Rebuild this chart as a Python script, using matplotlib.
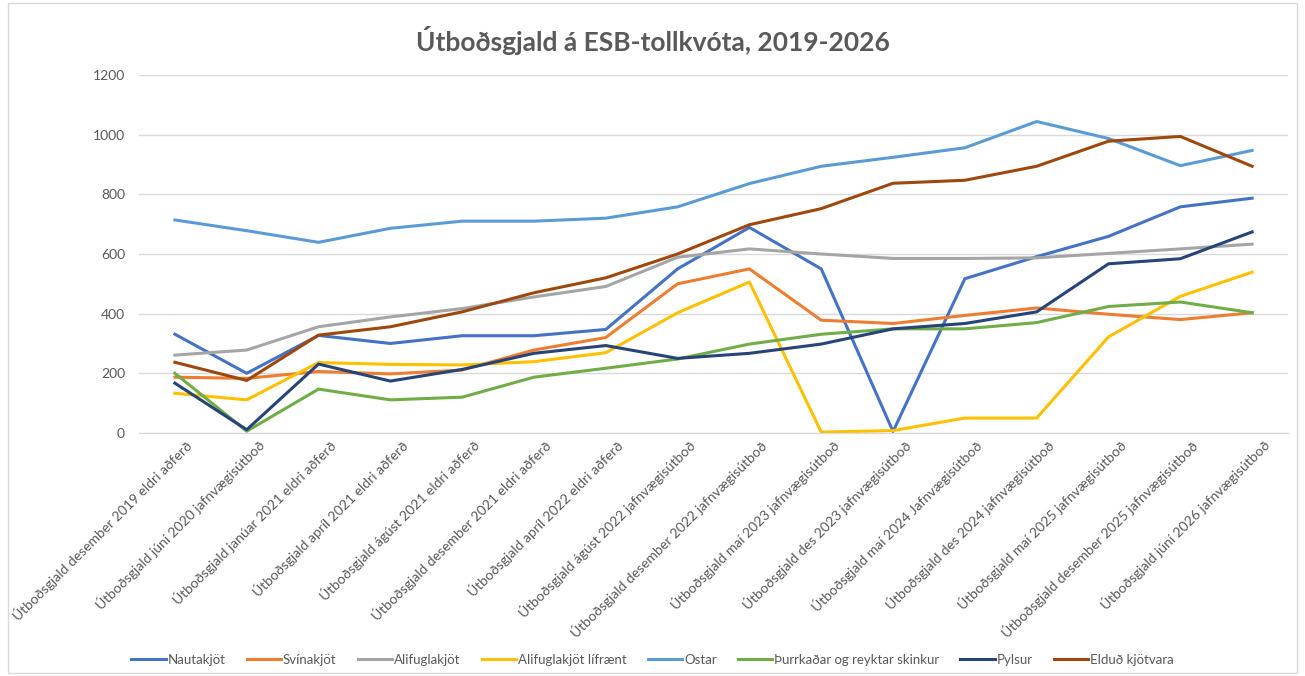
import matplotlib
matplotlib.use("Agg")
import matplotlib.pyplot as plt
from matplotlib.patches import Rectangle

plt.rcParams['font.family'] = ['Lato', 'DejaVu Sans']

categories = [
    "Útboðsgjald desember 2019 eldri aðferð",
    "Útboðsgjald júní 2020 jafnvægisútboð",
    "Útboðsgjald janúar 2021 eldri aðferð",
    "Útboðsgjald apríl 2021 eldri aðferð",
    "Útboðsgjald ágúst 2021 eldri aðferð",
    "Útboðsgjald desember 2021 eldri aðferð",
    "Útboðsgjald apríl 2022 eldri aðferð",
    "Útboðsgjald ágúst 2022 jafnvægisútboð",
    "Útboðsgjald desember 2022 jafnvægisútboð",
    "Útboðsgjald maí 2023 jafnvægisútboð",
    "Útboðsgjald des 2023 jafnvægisútboð",
    "Útboðsgjald maí 2024 Jafnvægisútboð",
    "Útboðsgjald des 2024 jafnvægisútboð",
    "Útboðsgjald maí 2025 jafnvægisútboð",
    "Útboðsgjald desember 2025 jafnvægisútboð",
    "Útboðsgjald júní 2026 jafnvægisútboð",
]

nautakjot = [331, 200, 327, 300, 326, 326, 347, 550, 689, 550, 5, 517, 591, 659, 758, 787]
svinakjot = [187, 183, 206, 198, 211, 278, 320, 500, 550, 378, 367, 394, 419, 398, 380, 403]
alifuglakjot = [261, 278, 356, 389, 417, 456, 491, 589, 617, 600, 585, 585, 587, 602, 617, 633]
alifugl_lifraent = [133, 111, 236, 230, 228, 239, 269, 403, 506, 3, 8, 50, 50, 322, 458, 539]
ostar = [714, 678, 639, 686, 710, 710, 720, 758, 836, 894, 924, 956, 1044, 987, 896, 947]
thurrkadar = [200, 6, 147, 111, 120, 187, 217, 248, 298, 331, 349, 349, 370, 424, 439, 403]
pylsur = [167, 11, 231, 174, 213, 267, 293, 250, 267, 298, 349, 367, 406, 567, 584, 674]
eldud = [237, 176, 328, 356, 406, 470, 520, 600, 698, 752, 837, 847, 894, 978, 994, 894]

series = [
    ("Nautakjöt", nautakjot, "#4472C4"),
    ("Svínakjöt", svinakjot, "#ED7D31"),
    ("Alifuglakjöt", alifuglakjot, "#A5A5A5"),
    ("Alifuglakjöt lífrænt", alifugl_lifraent, "#FFC000"),
    ("Ostar", ostar, "#5B9BD5"),
    ("Þurrkaðar og reyktar skinkur", thurrkadar, "#70AD47"),
    ("Pylsur", pylsur, "#264478"),
    ("Elduð kjötvara", eldud, "#9E480E"),
]

fig = plt.figure(figsize=(13.05, 6.76), dpi=100)
fig.patches.append(Rectangle((0.006, 0.004), 0.988, 0.992, transform=fig.transFigure,
                             fill=False, edgecolor="#D9D9D9", linewidth=1))
ax = fig.add_axes([0.1065, 0.3595, 0.8805, 0.5296])

x = list(range(len(categories)))
for name, vals, col in series:
    ax.plot(x, vals, color=col, lw=2.2, label=name, solid_joinstyle='round')

ax.set_xlim(-0.5, len(categories) - 0.5)
ax.set_ylim(0, 1200)
ax.set_yticks(range(0, 1201, 200))
ax.grid(axis='y', color="#D9D9D9", lw=1)
ax.set_axisbelow(True)
for s in ['top', 'right', 'left']:
    ax.spines[s].set_visible(False)
ax.spines['bottom'].set_color("#D9D9D9")
ax.tick_params(axis='both', length=0, colors="#595959", labelsize=10)
ax.tick_params(axis='y', pad=10)
ax.set_xticks(x)
ax.set_xticklabels(categories, rotation=45, ha='right', rotation_mode='anchor', fontsize=10)
for lbl in ax.get_xticklabels():
    lbl.set_transform(lbl.get_transform() + matplotlib.transforms.ScaledTranslation(0.10, 0.0, fig.dpi_scale_trans))

fig.text(0.5, 0.94, "Útboðsgjald á ESB-tollkvóta, 2019-2026", ha='center', va='center',
         fontsize=19, fontweight='bold', color="#595959")

leg = fig.legend(loc='center', bbox_to_anchor=(0.5, 0.024), ncol=8, frameon=False,
                 fontsize=9.5, handlelength=2.6, columnspacing=1.6, handletextpad=0.15)
for t in leg.get_texts():
    t.set_color("#595959")

fig.savefig("out.png", dpi=100)
